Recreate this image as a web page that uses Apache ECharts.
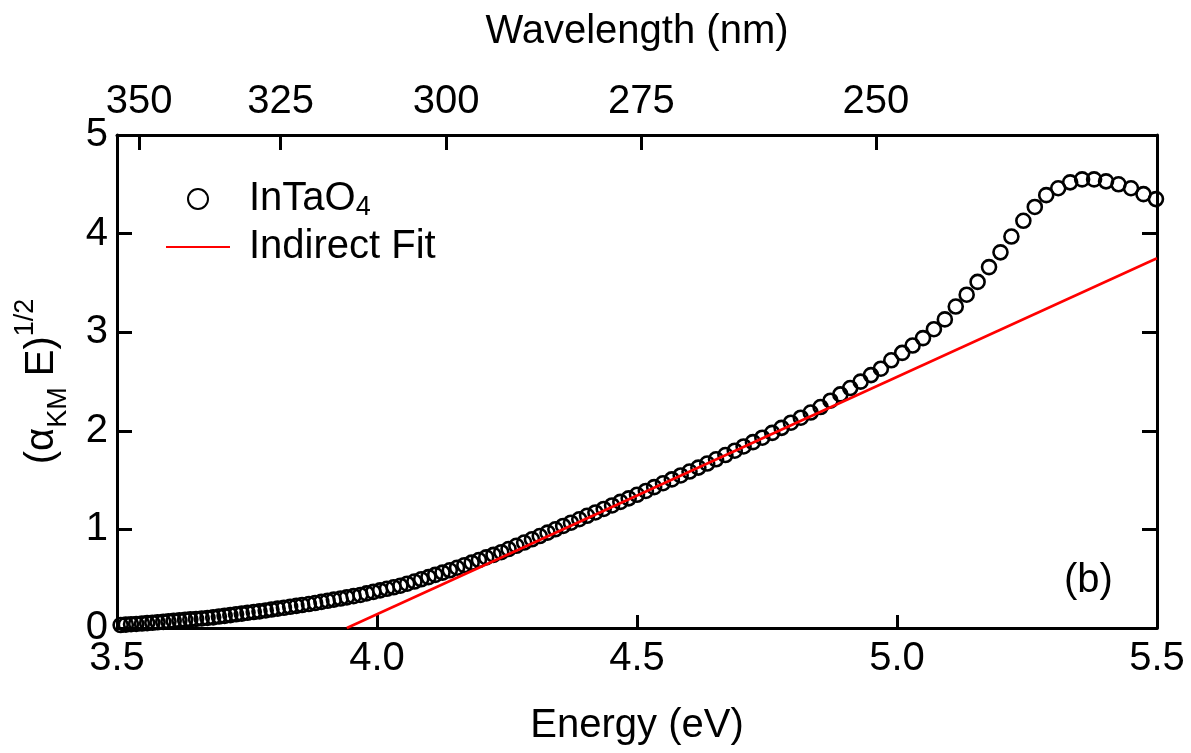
<!DOCTYPE html>
<html><head><meta charset="utf-8">
<script src="https://cdn.jsdelivr.net/npm/echarts@6/dist/echarts.min.js"></script>
<style>html,body{margin:0;padding:0;background:#fff}#c{width:1191px;height:753px}</style>
</head><body><div id="c"></div>
<script>
// Photon energy (eV) of each measured point
const energy = [
3.507,3.517,3.527,3.537,3.548,3.558,3.568,3.578,3.589,3.599,
3.609,3.620,3.631,3.641,3.652,3.663,3.674,3.685,3.696,3.707,
3.718,3.729,3.740,3.751,3.763,3.774,3.786,3.797,3.809,3.821,
3.833,3.845,3.856,3.869,3.881,3.893,3.905,3.917,3.930,3.942,
3.955,3.968,3.980,3.993,4.006,4.019,4.032,4.045,4.058,4.072,
4.085,4.099,4.112,4.126,4.140,4.154,4.168,4.182,4.196,4.210,
4.224,4.239,4.253,4.268,4.283,4.298,4.313,4.328,4.343,4.358,
4.373,4.389,4.404,4.420,4.436,4.452,4.468,4.484,4.500,4.517,
4.533,4.550,4.567,4.584,4.601,4.618,4.635,4.652,4.670,4.688,
4.705,4.723,4.741,4.760,4.778,4.796,4.815,4.834,4.853,4.872,
4.891,4.910,4.930,4.950,4.969,4.989,5.010,5.030,5.050,5.071,
5.092,5.113,5.134,5.155,5.177,5.199,5.220,5.243,5.265,5.287,
5.310,5.333,5.356,5.379,5.402,5.426,5.450,5.474,5.498];
// (alpha_KM E)^(1/2) of each point
const intensity = [
0.030,0.034,0.038,0.041,0.045,0.049,0.053,0.058,0.062,0.067,
0.072,0.077,0.082,0.087,0.092,0.097,0.102,0.108,0.116,0.123,
0.131,0.139,0.146,0.154,0.162,0.169,0.178,0.187,0.196,0.205,
0.215,0.224,0.233,0.243,0.253,0.265,0.276,0.288,0.299,0.311,
0.323,0.335,0.351,0.366,0.382,0.398,0.413,0.429,0.449,0.471,
0.494,0.516,0.539,0.562,0.585,0.611,0.637,0.663,0.689,0.716,
0.742,0.769,0.801,0.834,0.867,0.900,0.933,0.967,1.001,1.035,
1.068,1.103,1.138,1.172,1.207,1.243,1.279,1.315,1.351,1.390,
1.429,1.468,1.507,1.547,1.587,1.627,1.668,1.711,1.754,1.798,
1.841,1.885,1.930,1.979,2.030,2.082,2.133,2.185,2.241,2.305,
2.369,2.434,2.499,2.565,2.630,2.715,2.790,2.865,2.940,3.030,
3.130,3.260,3.380,3.510,3.660,3.810,3.970,4.130,4.270,4.390,
4.460,4.520,4.550,4.550,4.530,4.500,4.460,4.400,4.350];
// Indirect-gap linear fit end points
const fitEnergy = [3.942, 5.5];
const fitValue = [0, 3.75];
// Top axis tick labels (nm)
const wavelengthTicks = [350, 325, 300, 275, 250];
const HC = 1239.84;

const FONT = '"Liberation Sans", Arial, Helvetica, sans-serif';
const chart = echarts.init(document.getElementById('c'), null, {renderer: 'canvas'});
const axisLine = () => ({onZero: false, lineStyle: {color: '#000', width: 3}});
const ticks = (len, extra) => Object.assign({inside: true, length: len, lineStyle: {color: '#000', width: 3}}, extra || {});
const labelFont = () => ({color: '#000', fontFamily: FONT, fontSize: 40, lineHeight: 40});
const wlEnergies = wavelengthTicks.map(w => HC / w);

chart.setOption({
  animation: false,
  backgroundColor: '#fff',
  grid: {left: 117, right: 34, top: 135, bottom: 122, containLabel: false},
  legend: {
    orient: 'vertical', left: 165, top: 177, padding: 0, itemGap: 4,
    itemWidth: 64, itemHeight: 20,
    data: [{name: 'InTaO4'}, {name: 'Indirect Fit', itemStyle: {opacity: 0}}],
    formatter: n => n === 'InTaO4' ? 'InTaO{s|4}' : n,
    textStyle: {
      color: '#000', fontFamily: FONT, fontSize: 40, lineHeight: 44, padding: [0, 0, 0, 14],
      rich: {s: {fontFamily: FONT, fontSize: 27, lineHeight: 18, verticalAlign: 'bottom', color: '#000'}}
    }
  },
  xAxis: [{
    type: 'value', position: 'bottom', min: 3.5, max: 5.5, interval: 0.5,
    name: 'Energy (eV)', nameLocation: 'middle', nameGap: 76,
    nameTextStyle: {color: '#000', fontFamily: FONT, fontSize: 40, lineHeight: 44},
    axisLine: axisLine(), axisTick: ticks(13), splitLine: {show: false},
    axisLabel: Object.assign({margin: 11, formatter: v => v.toFixed(1), showMinLabel: true, showMaxLabel: true}, labelFont())
  }, {
    type: 'value', position: 'top', min: 3.5, max: 5.5,
    name: 'Wavelength (nm)', nameLocation: 'middle', nameGap: 81,
    nameTextStyle: {color: '#000', fontFamily: FONT, fontSize: 40, lineHeight: 44},
    axisLine: axisLine(),
    axisTick: ticks(15, {customValues: wlEnergies}),
    splitLine: {show: false},
    axisLabel: Object.assign({margin: 13, customValues: wlEnergies, formatter: v => String(Math.round(HC / v))}, labelFont())
  }],
  yAxis: [{
    type: 'value', position: 'left', min: 0, max: 5, interval: 1,
    name: '(α{s|KM} E){p|1/2}', nameLocation: 'middle', nameRotate: 90, nameGap: 45,
    nameTextStyle: {
      color: '#000', fontFamily: FONT, fontSize: 40, lineHeight: 60,
      rich: {
        s: {fontFamily: FONT, fontSize: 27, lineHeight: 43, verticalAlign: 'bottom', color: '#000'},
        p: {fontFamily: FONT, fontSize: 27, lineHeight: 16, verticalAlign: 'top', color: '#000'}
      }
    },
    axisLine: axisLine(), axisTick: ticks(15), splitLine: {show: false},
    axisLabel: Object.assign({margin: 9}, labelFont())
  }, {
    type: 'value', position: 'right', min: 0, max: 5, interval: 1,
    axisLine: axisLine(), axisTick: ticks(15), splitLine: {show: false},
    axisLabel: {show: false}
  }],
  graphic: [{
    type: 'text', left: 1064, top: 561,
    style: {text: '(b)', fill: '#000', font: '40px "Liberation Sans", Arial, sans-serif'}
  }],
  series: [{
    name: 'InTaO4', type: 'scatter', xAxisIndex: 0, yAxisIndex: 0,
    symbol: 'circle', symbolSize: 14,
    itemStyle: {color: 'rgba(255,255,255,0)', borderColor: '#000', borderWidth: 2.6, opacity: 1},
    data: energy.map((e, i) => [e, intensity[i]])
  }, {
    name: 'Indirect Fit', type: 'line', xAxisIndex: 0, yAxisIndex: 0,
    symbol: 'none', showSymbol: false,
    lineStyle: {color: '#ff0000', width: 2.5},
    itemStyle: {color: '#ff0000'},
    data: fitEnergy.map((e, i) => [e, fitValue[i]])
  }]
});
</script>
</body></html>
